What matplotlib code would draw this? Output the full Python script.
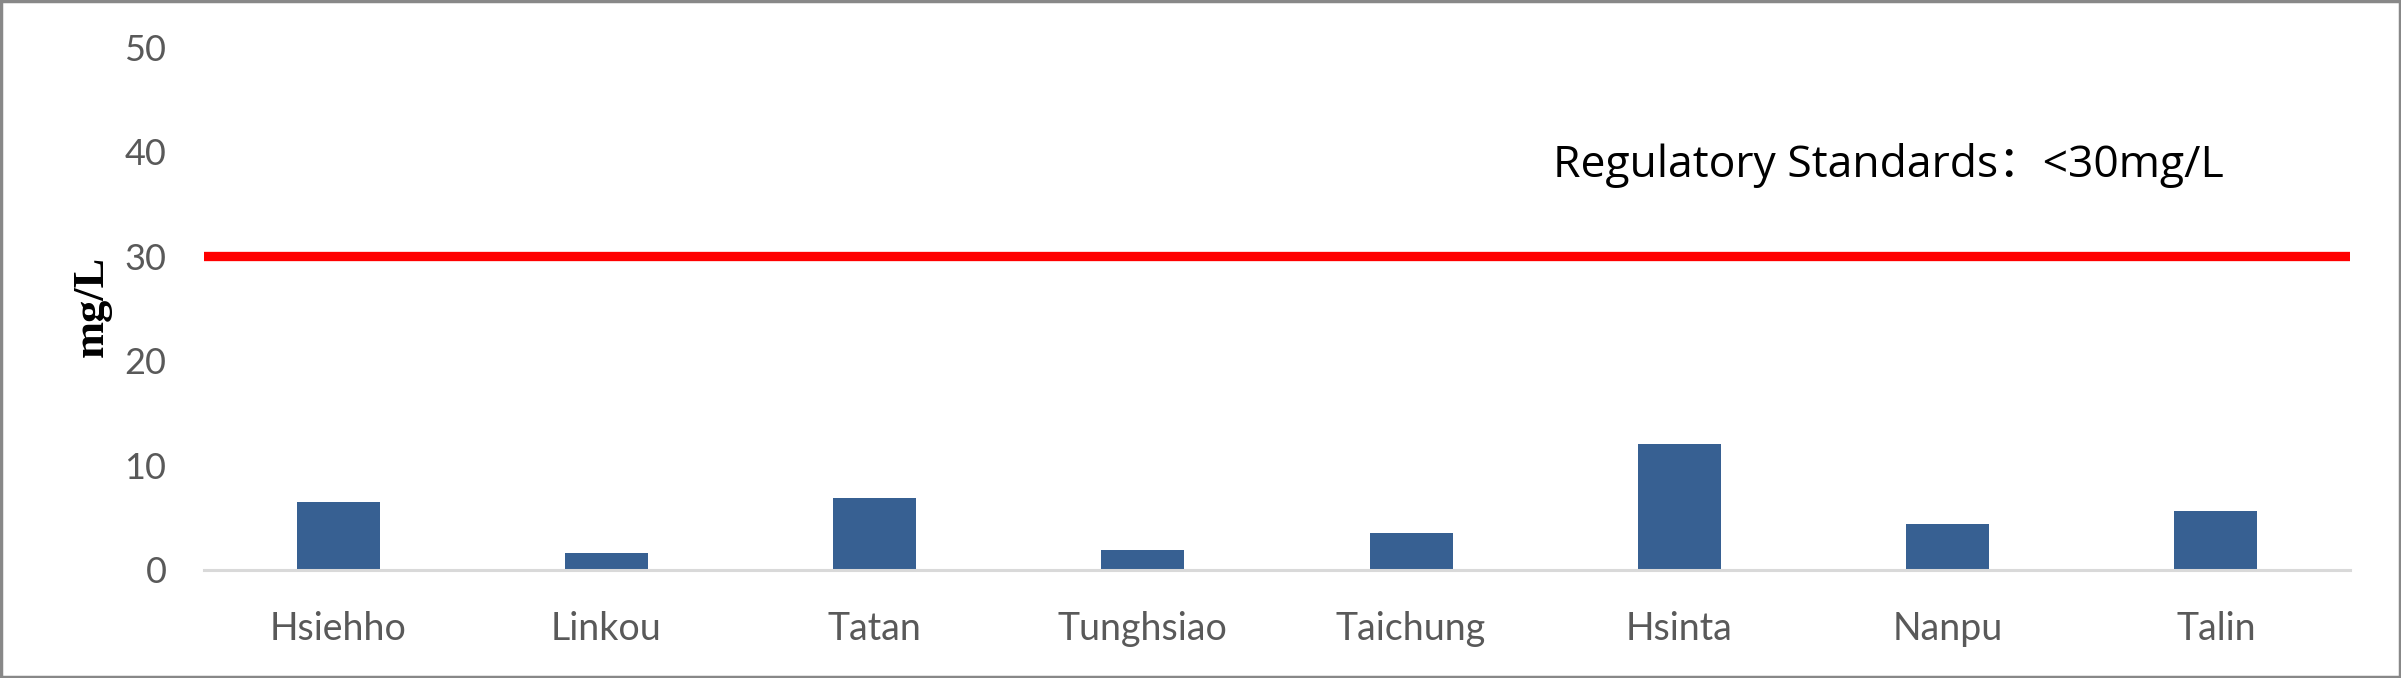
import matplotlib
matplotlib.use("Agg")
import matplotlib.pyplot as plt
from matplotlib.patches import Rectangle

categories = ["Hsiehho", "Linkou", "Tatan", "Tunghsiao", "Taichung", "Hsinta", "Nanpu", "Talin"]
values = [6.45, 1.6, 6.9, 1.9, 3.55, 12.05, 4.4, 5.65]
standard = 30
yticks = [0, 10, 20, 30, 40, 50]
standard_label = "Regulatory Standards\uff1a<30mg/L"
ylabel = "mg/L"

W, H, DPI = 24.01, 6.78, 100
fig = plt.figure(figsize=(W, H), dpi=DPI)
ax = fig.add_axes([204/2401, 1 - 569.6/678, (2350-204)/2401, (569.6-47.5)/678])

x = list(range(len(categories)))
ax.bar(x, values, width=0.31, color="#376092", zorder=2)
ax.axhline(standard, color="#ff0000", linewidth=6.7, zorder=3)

ax.set_xlim(-0.5, len(categories) - 0.5)
ax.set_ylim(0, 50)
ax.set_yticks(yticks)
ax.set_xticks(x)
ax.set_xticklabels(categories)

for s in ["top", "right", "left"]:
    ax.spines[s].set_visible(False)
ax.spines["bottom"].set_color("#d9d9d9")
ax.spines["bottom"].set_linewidth(2.2)
ax.tick_params(axis="both", length=0, labelcolor="#595959")
ax.tick_params(axis="y", pad=27, labelsize=26)
ax.tick_params(axis="x", pad=30, labelsize=27)
for lab in ax.get_xticklabels() + ax.get_yticklabels():
    lab.set_family(["Lato", "DejaVu Sans"])

ax.set_ylabel(ylabel, fontsize=32, fontweight="bold", family=["Liberation Serif", "DejaVu Serif"], color="black")
ax.yaxis.label.set_verticalalignment("center")
ax.yaxis.set_label_coords((92 - 204) / 2146, (569.6 - 306) / 522.1)

fig.text(1888/2401, 1 - 166/678, standard_label, fontsize=32, ha="center", va="center",
         color="black", family=["Open Sans", "Noto Sans CJK SC", "DejaVu Sans"])

fig.patches.append(Rectangle((0.0006, 0.002), 0.9988, 0.996, transform=fig.transFigure,
                             fill=False, edgecolor="#888888", linewidth=2.5))

fig.savefig("out.png", dpi=DPI, facecolor="white")
